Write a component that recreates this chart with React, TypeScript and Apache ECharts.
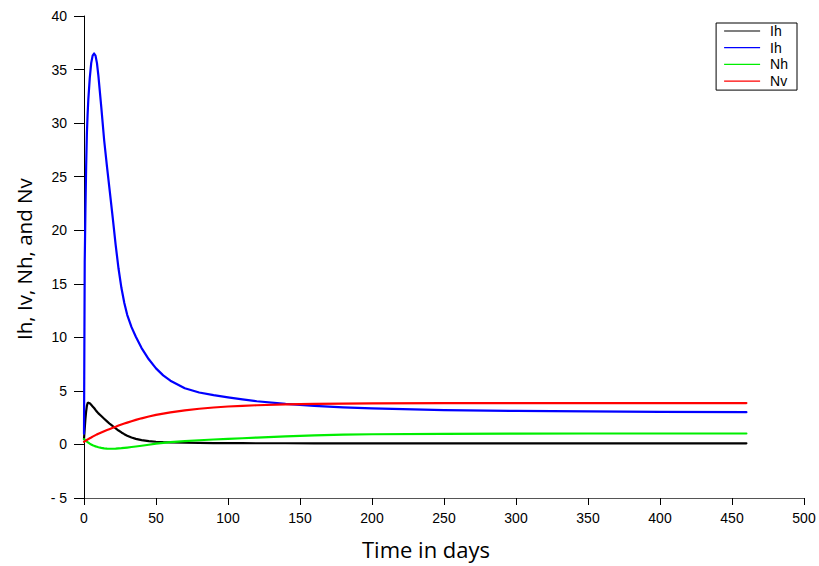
import React, { useEffect, useRef } from "react";
import * as echarts from "echarts";

const times = [0, 0.5, 1, 1.5, 2, 2.5, 3, 4, 5, 6, 7, 8, 9, 10, 12, 14, 16, 18, 20, 22, 24, 26, 28, 30, 33, 36, 40, 45, 50, 55, 60, 70, 80, 90, 100, 110, 120, 140, 160, 180, 200, 250, 300, 350, 400, 460];

const ihValues = [0.5, 1.5, 2.4, 3.1, 3.6, 3.85, 3.9, 3.85, 3.7, 3.55, 3.4, 3.22, 3.06, 2.9, 2.65, 2.4, 2.15, 1.91, 1.7, 1.5, 1.3, 1.12, 0.96, 0.82, 0.65, 0.52, 0.4, 0.31, 0.25, 0.21, 0.19, 0.16, 0.14, 0.13, 0.12, 0.12, 0.11, 0.11, 0.1, 0.1, 0.1, 0.1, 0.1, 0.1, 0.1, 0.1];

const ivValues = [1.0, 17, 22, 26, 29, 30.8, 32.2, 34.2, 35.6, 36.3, 36.5, 36.3, 35.6, 34.4, 31.5, 28.4, 25.9, 23.5, 21.1, 18.6, 16.4, 14.6, 13.2, 12.1, 10.95, 10.05, 9.0, 7.95, 7.1, 6.45, 5.95, 5.25, 4.85, 4.6, 4.4, 4.2, 4.03, 3.78, 3.6, 3.47, 3.37, 3.2, 3.13, 3.08, 3.05, 3.01];

const nhValues = [0.5, 0.44, 0.38, 0.32, 0.27, 0.22, 0.17, 0.08, 0.0, -0.07, -0.13, -0.18, -0.22, -0.26, -0.32, -0.36, -0.39, -0.4, -0.4, -0.39, -0.37, -0.35, -0.32, -0.29, -0.24, -0.19, -0.12, -0.03, 0.07, 0.15, 0.22, 0.31, 0.39, 0.46, 0.52, 0.58, 0.64, 0.76, 0.85, 0.91, 0.95, 0.99, 1.01, 1.02, 1.02, 1.02];

const nvValues = [0.25, 0.29, 0.33, 0.37, 0.42, 0.46, 0.5, 0.58, 0.65, 0.73, 0.8, 0.87, 0.94, 1.0, 1.12, 1.24, 1.35, 1.45, 1.55, 1.65, 1.76, 1.86, 1.95, 2.04, 2.17, 2.29, 2.44, 2.61, 2.76, 2.88, 2.99, 3.18, 3.33, 3.45, 3.54, 3.61, 3.66, 3.74, 3.79, 3.82, 3.84, 3.86, 3.86, 3.86, 3.86, 3.86];

const seriesNames = ["Ih", "Ih ", "Nh", "Nv"];
const seriesColors = ["#000000", "#0000ff", "#00ee00", "#ff0000"];
const seriesValues = [ihValues, ivValues, nhValues, nvValues];

const xTitle = "Time in days";
const yTitle = "Ih, Iv, Nh, and Nv";

export default function App() {
  const ref = useRef<HTMLDivElement>(null);
  useEffect(() => {
    if (!ref.current) return;
    const chart = echarts.init(ref.current, null, { renderer: "svg" });
    chart.setOption({
      animation: false,
      backgroundColor: "#ffffff",
      grid: { left: 84, right: 15, top: 16, bottom: 68 },
      legend: {
        right: 22,
        top: 23,
        orient: "vertical",
        icon: "rect",
        itemWidth: 36,
        itemHeight: 1.2,
        itemGap: 2.7,
        borderColor: "#000",
        borderWidth: 1,
        borderRadius: 0,
        padding: [1, 9, 2, 8],
        textStyle: {
          fontFamily: "Liberation Sans",
          fontSize: 14,
          color: "#000",
          lineHeight: 14,
          padding: [0, 0, 0, 5],
        },
        data: seriesNames,
      },
      xAxis: {
        type: "value",
        min: 0,
        max: 500,
        interval: 50,
        splitLine: { show: false },
        axisLine: { show: true, onZero: false, lineStyle: { color: "#555", width: 1 } },
        axisTick: { show: true, length: 7, lineStyle: { color: "#000" } },
        axisLabel: { fontFamily: "Liberation Sans", fontSize: 14, color: "#000", margin: 13 },
      },
      yAxis: {
        type: "value",
        min: -5,
        max: 40,
        interval: 5,
        splitLine: { show: false },
        axisLine: { show: true, onZero: false, lineStyle: { color: "#000", width: 1 } },
        axisTick: { show: true, length: 10, lineStyle: { color: "#000" } },
        axisLabel: {
          fontFamily: "Liberation Sans",
          fontSize: 14,
          color: "#000",
          margin: 17,
          formatter: (v: number) => (v < 0 ? "- " + Math.abs(v) : String(v)),
        },
      },
      graphic: [
        {
          type: "text",
          left: 362,
          top: 538,
          style: { text: xTitle, font: '22px "Open Sans"', fill: "#000" },
        },
        {
          type: "text",
          x: 13,
          y: 340,
          rotation: Math.PI / 2,
          style: { text: yTitle, font: '20.5px "Open Sans"', fill: "#000" },
        },
      ],
      series: seriesNames.map((name, i) => ({
        name,
        type: "line",
        symbol: "none",
        smooth: false,
        color: seriesColors[i],
        lineStyle: { width: 2.2, color: seriesColors[i], join: "round", cap: "round" },
        data: times.map((t, j) => [t, seriesValues[i][j]]),
      })),
    });
    return () => chart.dispose();
  }, []);
  return <div ref={ref} style={{ width: 819, height: 566, position: "absolute", left: 0, top: 0 }} />;
}
